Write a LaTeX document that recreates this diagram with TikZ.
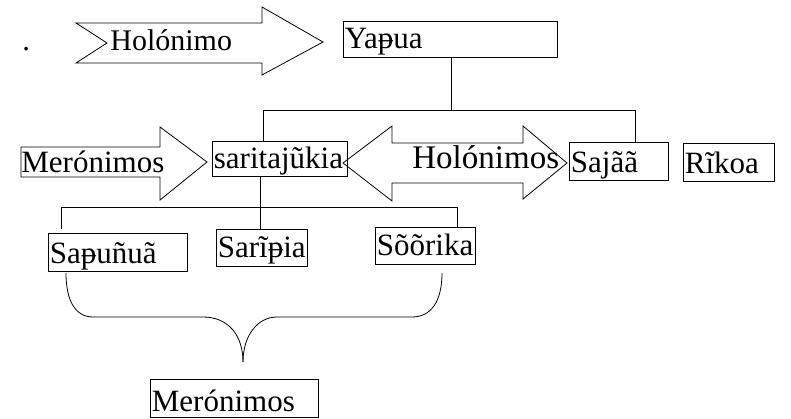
\documentclass[tikz,border=0pt]{standalone}
\usepackage{fontspec}
\setmainfont{Liberation Serif}
\begin{document}
\begin{tikzpicture}[x=1pt,y=-1pt, line width=0.8pt,
  every node/.style={font=\fontsize{31}{36}\selectfont},
  lbl/.style={inner sep=0pt, anchor=base west},
  term/.style n args={3}{draw, anchor=base west, inner xsep=1.5pt, inner ysep=0pt,
    text width=#1, text height=#2, text depth=#3, align=left},
  blockarrow/.style={draw, line join=miter},
  link/.style={draw, line width=0.8pt},
]
\useasboundingbox (0,0) rectangle (791,419);

% word boxes
\node[term={211pt}{28pt}{8pt}] (yapua)   at (343,49)  {Yaᵽua};
\node[term={132pt}{28pt}{7pt}] (sari)    at (212,169) {saritajũkia};
\node[term={96pt}{31pt}{7pt}]  (sajaa)   at (569,173) {Sajãã};
\node[term={88pt}{31pt}{7pt}]  (rikoa)   at (683,174) {Rĩkoa};
\node[term={136pt}{30pt}{8pt}] (sapunua) at (48,263)  {Saᵽuñuã};
\node[term={88pt}{29pt}{8pt}]  (saripia) at (216,258) {Sarĩᵽia};
\node[term={97pt}{28pt}{9pt}]  (soorika) at (375,255) {Sõõrika};
\node[term={165pt}{32pt}{6pt}] (meron)   at (150,411) {Merónimos};

% block arrows
\draw[blockarrow] (76,23) -- (262,23) -- (262,7) -- (323,42) -- (262,75)
  -- (262,63) -- (76,63) -- (107,43) -- cycle;
\draw[blockarrow] (21,147) -- (160,147) -- (160,127) -- (207,162) -- (160,200)
  -- (160,177) -- (21,177) -- cycle;
\draw[blockarrow] (343,163) -- (392,126) -- (392,143) -- (523,143) -- (523,126)
  -- (567,163) -- (523,199) -- (523,183) -- (392,183) -- (392,201) -- cycle;

\node[lbl] (dot)   at (22,51)   {.};
\node[lbl, font=\fontsize{30}{36}\selectfont] (holo) at (110,51) {Holónimo};
\node[lbl] (meron1) at (21,173) {Merónimos};
\node[lbl, font=\fontsize{33}{38}\selectfont] (holos) at (412,169) {Holónimos};

% upper tree
\coordinate (hL) at (263,110);
\coordinate (hR) at (635,110);
\draw[link] (yapua.south -| 451,0) -- (451,110);
\draw[link] (hL |- sari.north) -- (hL) -- (hR) -- (hR |- sajaa.north);

% lower tree
\coordinate (jC) at (260,207);
\coordinate (jL) at (61,207);
\coordinate (jR) at (457,207);
\draw[link] (jC |- sari.south) -- (jC);
\draw[link] (61,229) -- (jL) -- (jR) -- (jR |- soorika.north);
\draw[link] (jC) -- (jC |- saripia.north);

% brace gathering the parts
\coordinate (bL) at (66,273);
\coordinate (bR) at (442,273);
\coordinate (bT) at (243,362);
\draw[link] (bL) .. controls (66,300) and (75,317) .. (93,317) -- (203,317)
  .. controls (228,317) and (243,335) .. (bT);
\draw[link] (bR) .. controls (442,300) and (432,317) .. (412,317) -- (277,317)
  .. controls (258,317) and (243,335) .. (bT);
\end{tikzpicture}
\end{document}
